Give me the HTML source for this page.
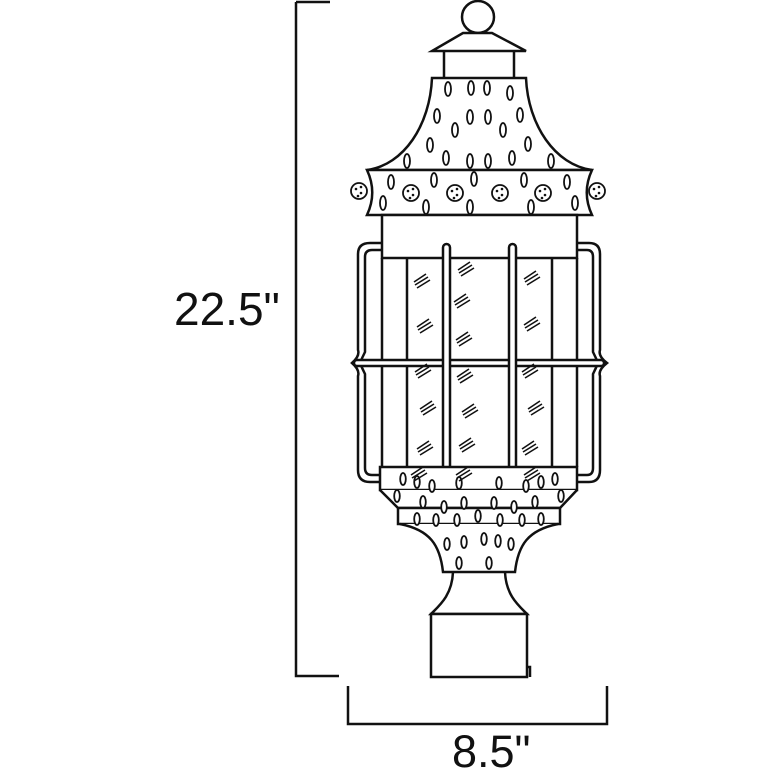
<!DOCTYPE html>
<html><head><meta charset="utf-8"><style>
html,body{margin:0;padding:0;background:#fff;width:780px;height:780px;overflow:hidden}
svg{display:block}
text{font-family:"Liberation Sans",sans-serif;fill:#111}
</style></head><body>
<svg width="780" height="780" viewBox="0 0 780 780" xmlns="http://www.w3.org/2000/svg">
<g fill="none" stroke="#111" stroke-width="2.5">
<path d="M296,2 H330 M296,2 V676 H339"/>
<path d="M348,686 V724 H607 V686"/>
<circle cx="478" cy="17" r="16" fill="#fff"/>
<path d="M463,33 H492 L526,51 H432 Z" fill="#fff"/>
<path d="M444,52 V78 M514,52 V78"/>
<path d="M432,78 H526 C528,125 555,165 592,170 H367 C404,165 430,125 432,78 Z" fill="#fff"/>
<path d="M367,170 H592 C585,185 585,200 592,215 H367 C374,200 374,185 367,170 Z" fill="#fff"/>
<rect x="382" y="215" width="195" height="43" fill="#fff"/>
<path d="M370,243 H382 M577,243 H589 Q600,243 600,254 V350 Q598,356 607,363 Q598,370 600,376 V470 Q600,482 589,482 H577 M382,482 H370 Q358,482 358,470 V376 Q360,370 352,363 Q360,356 358,350 V254 Q358,243 370,243"/>
<path d="M382,250 H372 Q365,250 365,257 V352 Q362,358 360,363 Q362,368 365,374 V468 Q365,475 372,475 H382 M577,250 H587 Q593,250 593,257 V352 Q596,358 598,363 Q596,368 593,374 V468 Q593,475 587,475 H577"/>
<path d="M382,258 V467 M577,258 V467 M407,258 V467 M552,258 V467"/>
<rect x="354" y="360" width="250" height="6" rx="3" fill="#fff"/>
<rect x="443" y="244" width="7" height="236" rx="3.5" fill="#fff"/>
<rect x="509" y="244" width="7" height="236" rx="3.5" fill="#fff"/>
<rect x="380" y="467" width="197" height="23" fill="#fff"/>
<path d="M380,490 L398,508 H560 L577,490" fill="#fff"/>
<rect x="398" y="508" width="162" height="16" fill="#fff"/>
<path d="M400,524 C430,530 440,545 443,572 H515 C518,545 528,530 558,524" fill="#fff"/>
<path d="M453,572 C452,595 440,605 431,614 H527 C518,605 506,595 505,572"/>
<rect x="431" y="614" width="96" height="63" fill="#fff"/>
<path d="M527,667 H530 V677"/>
</g>
<g fill="#fff" stroke="#111" stroke-width="1.8">
<ellipse cx="448" cy="89" rx="3" ry="7"/><ellipse cx="471" cy="88" rx="3" ry="7"/><ellipse cx="487" cy="88" rx="3" ry="7"/><ellipse cx="510" cy="93" rx="3" ry="7"/>
<ellipse cx="437" cy="116" rx="3" ry="7"/><ellipse cx="470" cy="117" rx="3" ry="7"/><ellipse cx="488" cy="117" rx="3" ry="7"/><ellipse cx="520" cy="115" rx="3" ry="7"/>
<ellipse cx="455" cy="130" rx="3" ry="7"/><ellipse cx="503" cy="130" rx="3" ry="7"/>
<ellipse cx="430" cy="145" rx="3" ry="7"/><ellipse cx="528" cy="144" rx="3" ry="7"/>
<ellipse cx="407" cy="161" rx="3" ry="7"/><ellipse cx="446" cy="158" rx="3" ry="7"/><ellipse cx="470" cy="161" rx="3" ry="7"/><ellipse cx="488" cy="161" rx="3" ry="7"/><ellipse cx="512" cy="158" rx="3" ry="7"/><ellipse cx="551" cy="161" rx="3" ry="7"/>
<ellipse cx="391" cy="182" rx="3" ry="7"/><ellipse cx="434" cy="180" rx="3" ry="7"/><ellipse cx="474" cy="179" rx="3" ry="7"/><ellipse cx="524" cy="180" rx="3" ry="7"/><ellipse cx="567" cy="182" rx="3" ry="7"/>
<ellipse cx="383" cy="203" rx="3" ry="7"/><ellipse cx="426" cy="207" rx="3" ry="7"/><ellipse cx="470" cy="207" rx="3" ry="7"/><ellipse cx="531" cy="207" rx="3" ry="7"/><ellipse cx="575" cy="203" rx="3" ry="7"/>
<ellipse cx="403" cy="479" rx="2.8" ry="6"/><ellipse cx="417" cy="482" rx="2.8" ry="6"/><ellipse cx="432" cy="486" rx="2.8" ry="6"/><ellipse cx="459" cy="483" rx="2.8" ry="6"/><ellipse cx="499" cy="483" rx="2.8" ry="6"/><ellipse cx="526" cy="486" rx="2.8" ry="6"/><ellipse cx="541" cy="482" rx="2.8" ry="6"/><ellipse cx="555" cy="479" rx="2.8" ry="6"/>
<ellipse cx="397" cy="496" rx="2.8" ry="6"/><ellipse cx="423" cy="502" rx="2.8" ry="6"/><ellipse cx="444" cy="507" rx="2.8" ry="6"/><ellipse cx="464" cy="503" rx="2.8" ry="6"/><ellipse cx="494" cy="503" rx="2.8" ry="6"/><ellipse cx="514" cy="507" rx="2.8" ry="6"/><ellipse cx="535" cy="502" rx="2.8" ry="6"/><ellipse cx="561" cy="496" rx="2.8" ry="6"/>
<ellipse cx="417" cy="519" rx="2.8" ry="6"/><ellipse cx="436" cy="520" rx="2.8" ry="6"/><ellipse cx="457" cy="520" rx="2.8" ry="6"/><ellipse cx="478" cy="516" rx="2.8" ry="6"/><ellipse cx="500" cy="520" rx="2.8" ry="6"/><ellipse cx="522" cy="520" rx="2.8" ry="6"/><ellipse cx="541" cy="519" rx="2.8" ry="6"/>
<ellipse cx="447" cy="544" rx="2.8" ry="6"/><ellipse cx="464" cy="542" rx="2.8" ry="6"/><ellipse cx="484" cy="539" rx="2.8" ry="6"/><ellipse cx="498" cy="541" rx="2.8" ry="6"/><ellipse cx="511" cy="544" rx="2.8" ry="6"/>
<ellipse cx="459" cy="563" rx="2.8" ry="6"/><ellipse cx="489" cy="563" rx="2.8" ry="6"/>
</g>
<g fill="#fff" stroke="#111" stroke-width="1.8">
<circle cx="359" cy="191" r="8"/><circle cx="411" cy="193" r="8"/><circle cx="455" cy="193" r="8"/><circle cx="500" cy="193" r="8"/><circle cx="543" cy="193" r="8"/><circle cx="597" cy="191" r="8"/>
</g>
<g fill="#111">
<circle cx="356" cy="189" r="1.3"/><circle cx="361" cy="193" r="1.3"/><circle cx="358" cy="196" r="1.3"/><circle cx="361" cy="187" r="1.3"/>
<circle cx="408" cy="191" r="1.3"/><circle cx="413" cy="195" r="1.3"/><circle cx="410" cy="198" r="1.3"/><circle cx="413" cy="189" r="1.3"/>
<circle cx="452" cy="191" r="1.3"/><circle cx="457" cy="195" r="1.3"/><circle cx="454" cy="198" r="1.3"/><circle cx="457" cy="189" r="1.3"/>
<circle cx="497" cy="191" r="1.3"/><circle cx="502" cy="195" r="1.3"/><circle cx="499" cy="198" r="1.3"/><circle cx="502" cy="189" r="1.3"/>
<circle cx="540" cy="191" r="1.3"/><circle cx="545" cy="195" r="1.3"/><circle cx="542" cy="198" r="1.3"/><circle cx="545" cy="189" r="1.3"/>
<circle cx="594" cy="189" r="1.3"/><circle cx="599" cy="193" r="1.3"/><circle cx="596" cy="196" r="1.3"/><circle cx="599" cy="187" r="1.3"/>
</g>
<g stroke="#111" stroke-width="1.6">
<path id="h" d="M0,5 L13,-3 M2,8 L15,0 M-1,2 L11,-6" fill="none" transform="translate(415,280)"/>
<use href="#h" x="44" y="-12"/><use href="#h" x="110" y="-3"/>
<use href="#h" x="40" y="20"/>
<use href="#h" x="3" y="45"/><use href="#h" x="110" y="43"/><use href="#h" x="42" y="58"/>
<use href="#h" x="1" y="90"/><use href="#h" x="43" y="95"/><use href="#h" x="108" y="90"/>
<use href="#h" x="6" y="127"/><use href="#h" x="48" y="130"/><use href="#h" x="114" y="127"/>
<use href="#h" x="3" y="167"/><use href="#h" x="45" y="164"/><use href="#h" x="108" y="167"/>
<use href="#h" x="-3" y="193"/><use href="#h" x="42" y="193"/><use href="#h" x="110" y="193"/>
</g>
<text x="174" y="325" font-size="46">22.5"</text>
<text x="452" y="767" font-size="45">8.5"</text>
</svg>
</body></html>
